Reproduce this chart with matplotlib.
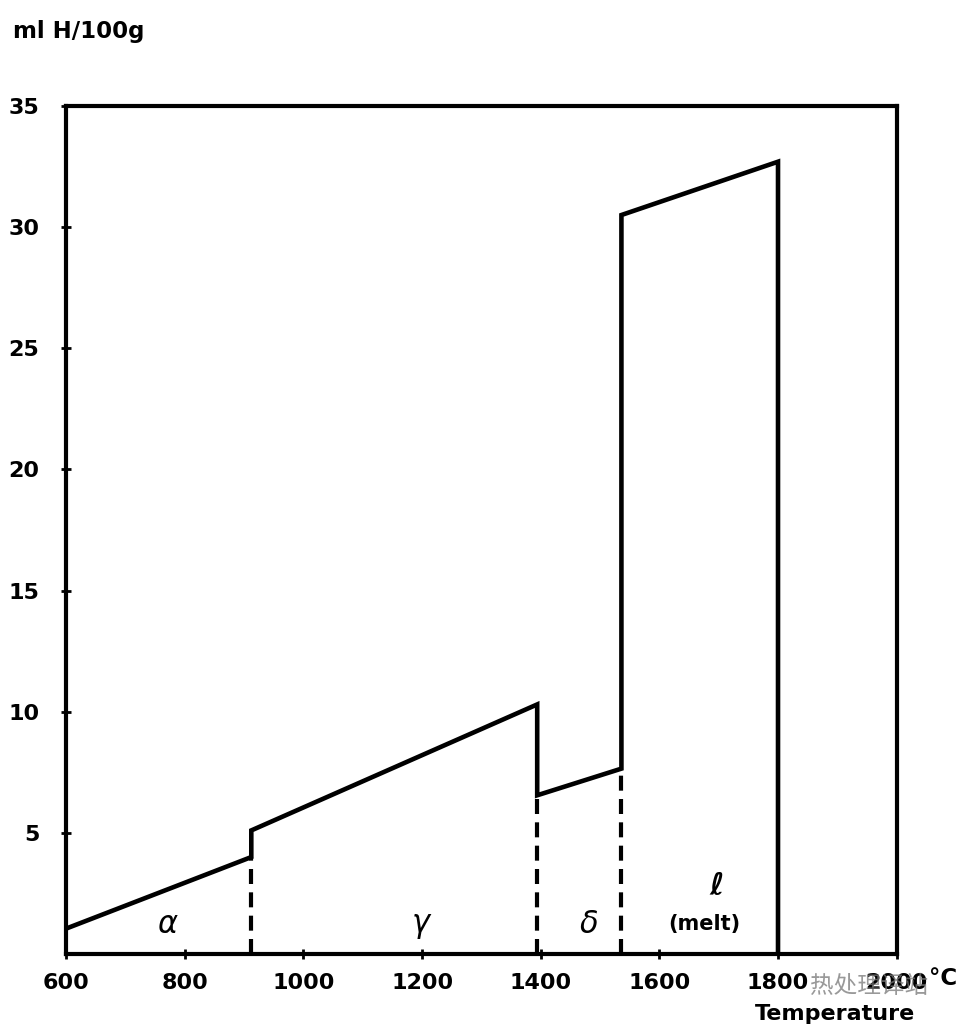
import matplotlib
matplotlib.use("Agg")
import matplotlib.pyplot as plt

# Data
temps = [600, 912, 912, 1394, 1394, 1536, 1536, 1800, 1800]
solubility = [1.05, 4.0, 5.1, 10.3, 6.55, 7.65, 30.5, 32.7, 0.0]
boundary_temps = [912, 1394, 1536]
boundary_tops = [4.0, 6.55, 7.65]
x_ticks = [600, 800, 1000, 1200, 1400, 1600, 1800, 2000]
y_ticks = [5, 10, 15, 20, 25, 30, 35]
phase_labels = ["α", "γ", "δ", "ℓ", "(melt)"]
phase_x = [770, 1198, 1482, 1697, 1675]
phase_y = [1.2, 1.2, 1.2, 2.8, 1.25]

plt.rcParams['font.family'] = ['DejaVu Sans', 'Noto Sans CJK SC']

fig = plt.figure(figsize=(9.6, 10.29), dpi=100)
ax = fig.add_axes([0.069, 0.0729, 0.865, 0.8241])

ax.plot(temps, solubility, color='black', lw=3.3, solid_joinstyle='miter', zorder=3)
for t, top in zip(boundary_temps, boundary_tops):
    ax.plot([t, t], [0, top], color='black', lw=3.0, dashes=(3.6, 2.0), zorder=2)

ax.set_xlim(600, 2000)
ax.set_ylim(0, 35)
ax.set_xticks(x_ticks)
ax.set_xticklabels([str(v) for v in x_ticks], fontweight='semibold')
ax.set_yticks(y_ticks)
ax.set_yticklabels([str(v) for v in y_ticks], fontweight='semibold')
for s in ax.spines.values():
    s.set_linewidth(3.0)
ax.tick_params(axis='both', direction='inout', length=7, width=2,
               labelsize=16, pad=10)
ax.tick_params(axis='y', pad=16)

for lab, x, y in zip(phase_labels, phase_x, phase_y):
    fs = 22 if lab in ("α", "γ", "δ", "ℓ") else 15
    st = 'italic' if lab != "(melt)" else 'normal'
    ax.text(x, y, lab, ha='center', va='center', fontsize=fs, style=st,
            fontweight='bold' if lab in ("ℓ", "(melt)") else 'normal')

fig.text(0.014, 0.969, "ml H/100g", fontsize=16.5, ha='left', va='center',
         fontweight='semibold')
fig.text(0.982, 0.049, "°C", fontsize=16.5, ha='center', va='center',
         fontweight='semibold')
fig.text(0.870, 0.015, "Temperature", fontsize=16, ha='center', va='center',
         fontweight='bold')
fig.text(0.905, 0.041, "热处理译站", fontsize=17, ha='center', va='center',
         color='#777777', alpha=0.75, family=['Noto Sans CJK SC', 'DejaVu Sans'])

fig.savefig("out.png", dpi=100, facecolor='white')
